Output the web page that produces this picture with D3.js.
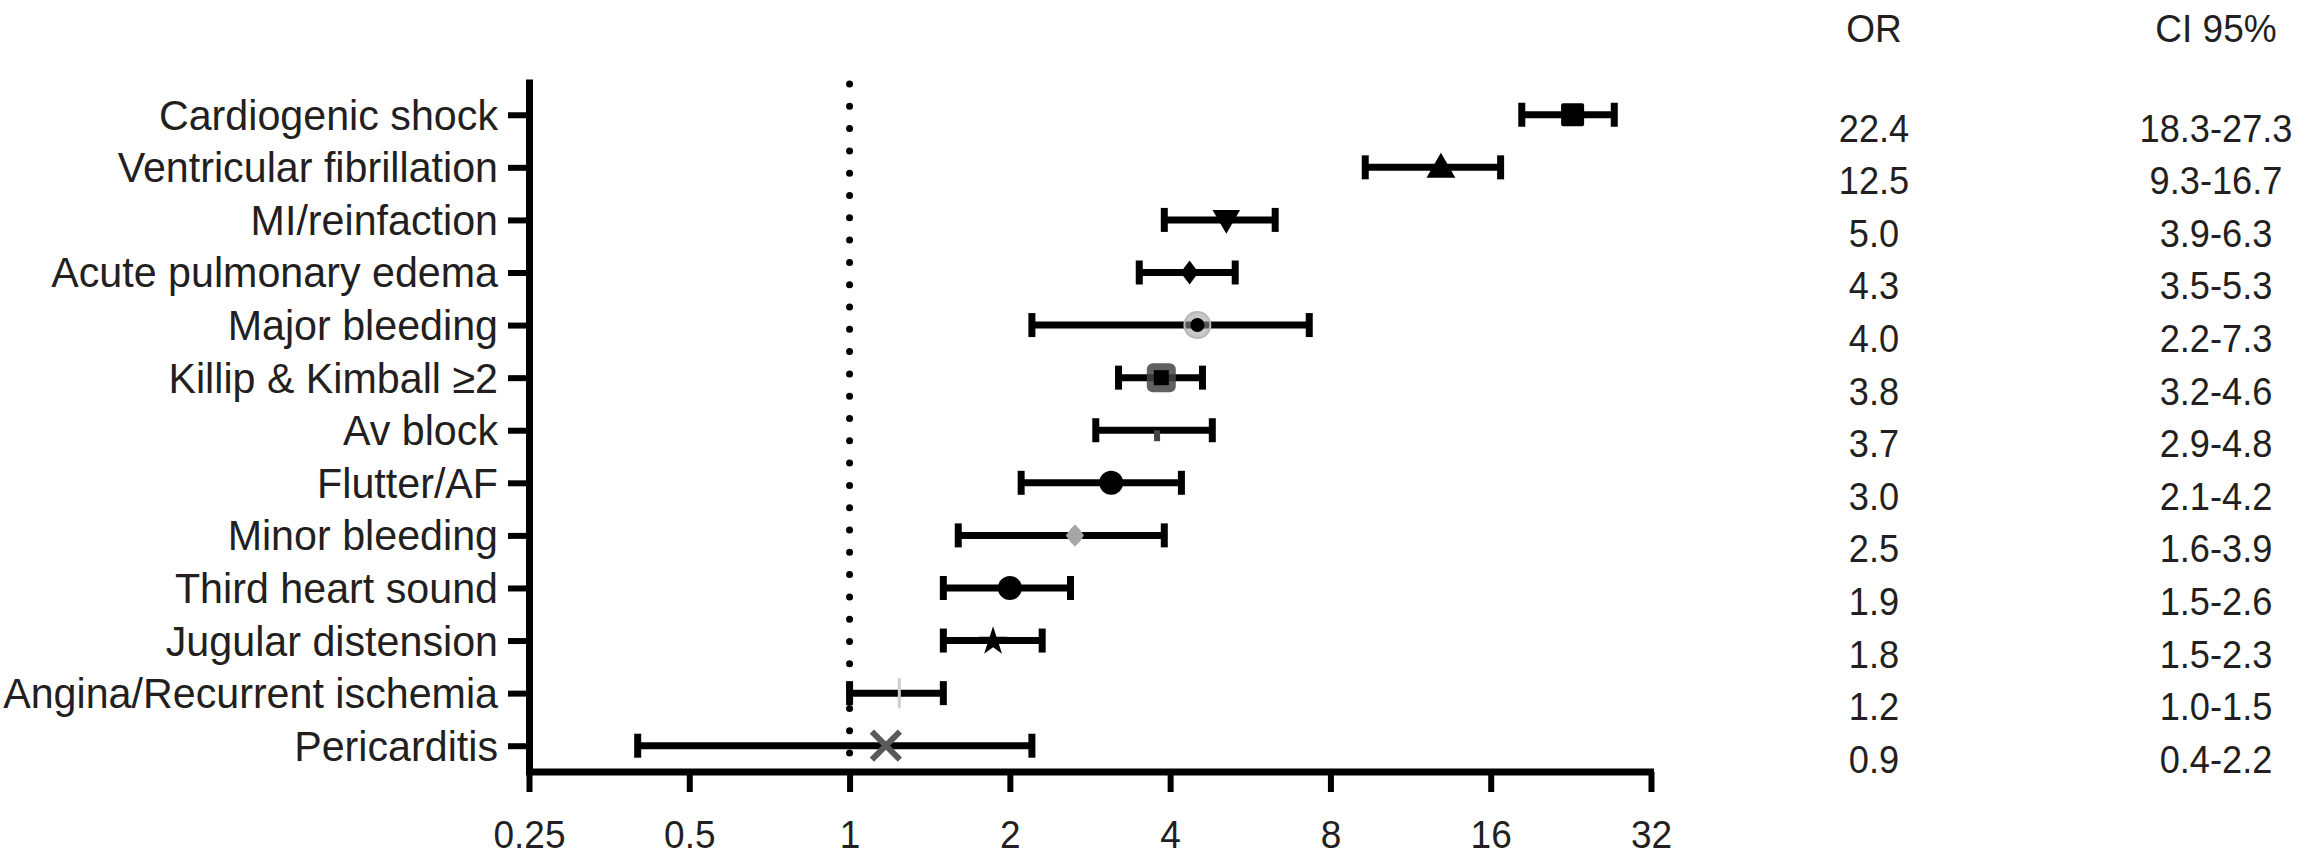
<!DOCTYPE html>
<html>
<head>
<meta charset="utf-8">
<script src="https://cdn.jsdelivr.net/npm/d3@7"></script>
<style>
  html, body { margin: 0; padding: 0; background: #fff; }
  svg { display: block; font-family: "Liberation Sans", Arial, Helvetica, sans-serif; }
</style>
</head>
<body>
<div id="chart"></div>
<script>
// rows, top to bottom
const categories = [
    "Cardiogenic shock", "Ventricular fibrillation", "MI/reinfaction", "Acute pulmonary edema",
    "Major bleeding", "Killip & Kimball \u22652", "Av block", "Flutter/AF", "Minor bleeding",
    "Third heart sound", "Jugular distension", "Angina/Recurrent ischemia", "Pericarditis"
];
const orValues = [22.4, 12.5, 5.0, 4.3, 4.0, 3.8, 3.7, 3.0, 2.5, 1.9, 1.8, 1.2, 0.9];
const ciLow = [18.3, 9.3, 3.9, 3.5, 2.2, 3.2, 2.9, 2.1, 1.6, 1.5, 1.5, 1.0, 0.4];
const ciHigh = [27.3, 16.7, 6.3, 5.3, 7.3, 4.6, 4.8, 4.2, 3.9, 2.6, 2.3, 1.5, 2.2];
// where the marker sits on the plot (read off the figure, not always equal to OR)
const markerAt = [22.8, 12.9, 5.1, 4.35, 4.5, 3.85, 3.78, 3.1, 2.65, 2.0, 1.86, 1.24, 1.17];
const xTicks = [0.25, 0.5, 1, 2, 4, 8, 16, 32];
const colHeaders = ["OR", "CI 95%"];

const width = 2316, height = 859;
const plot = { left: 529, right: 1651, top: 79, bottom: 772 };

const svg = d3.select("#chart").append("svg")
    .attr("width", width).attr("height", height);

const x = d3.scaleLog().base(2).domain([0.25, 32]).range([plot.left, plot.right]);
const y = d3.scaleLinear().domain([-0.68, 12.5]).range([plot.top, plot.bottom]);

const ink = "#000";
const textCol = "#231f20";
// the figure's type is a little narrower than Liberation Sans
const squeeze = (cx, k) => `translate(${cx},0) scale(${k},1) translate(${-cx},0)`;

// reference line at OR = 1
svg.append("line")
    .attr("x1", x(1)).attr("x2", x(1))
    .attr("y1", plot.top + 5).attr("y2", plot.bottom)
    .attr("stroke", ink)
    .attr("stroke-width", 7)
    .attr("stroke-linecap", "round")
    .attr("stroke-dasharray", "0 22.3");

// axes
const yAxis = d3.axisLeft(y)
    .tickValues(d3.range(categories.length))
    .tickFormat(i => categories[i])
    .tickSize(21).tickSizeOuter(0).tickPadding(10);

const gy = svg.append("g").attr("transform", `translate(${plot.left},0)`).call(yAxis);
gy.select(".domain").attr("stroke", ink).attr("stroke-width", 7);
gy.selectAll(".tick line").attr("stroke", ink).attr("stroke-width", 6);
gy.selectAll(".tick text")
    .attr("font-size", 42.5).attr("fill", textCol)
    .attr("font-family", "Liberation Sans, Arial, sans-serif")
    .attr("dy", "0.34em")
    .attr("transform", squeeze(-31, 0.97));

const xAxis = d3.axisBottom(x)
    .tickValues(xTicks)
    .tickFormat(d => d)
    .tickSize(20).tickSizeOuter(0).tickPadding(28);

const gx = svg.append("g").attr("transform", `translate(0,${plot.bottom})`).call(xAxis);
gx.select(".domain").attr("stroke", ink).attr("stroke-width", 7)
    .attr("d", `M${plot.left - 3},0H${plot.right + 3}`);
gx.selectAll(".tick line").attr("stroke", ink).attr("stroke-width", 6);
gx.selectAll(".tick text")
    .attr("font-size", 39).attr("fill", textCol)
    .attr("font-family", "Liberation Sans, Arial, sans-serif")
    .attr("transform", squeeze(0, 0.95));

// error bars
const rows = categories.map((c, i) => ({
    name: c, i, or: orValues[i], lo: ciLow[i], hi: ciHigh[i], at: markerAt[i]
}));

const bars = svg.append("g").attr("stroke", ink);
bars.selectAll("line.ci")
    .data(rows)
    .join("line")
    .attr("class", "ci")
    .attr("x1", d => x(d.lo)).attr("x2", d => x(d.hi))
    .attr("y1", d => y(d.i)).attr("y2", d => y(d.i))
    .attr("stroke-width", 7);
bars.selectAll("line.cap")
    .data(rows.flatMap(d => [{ v: d.lo, i: d.i }, { v: d.hi, i: d.i }]))
    .join("line")
    .attr("class", "cap")
    .attr("x1", d => x(d.v)).attr("x2", d => x(d.v))
    .attr("y1", d => y(d.i) - 12).attr("y2", d => y(d.i) + 12)
    .attr("stroke-width", 7);

// markers, one style per outcome as in the figure
const marks = svg.append("g");
const sym = (type, size) => d3.symbol().type(type).size(size)();

rows.forEach(d => {
    const g = marks.append("g").attr("transform", `translate(${x(d.at)},${y(d.i)})`);
    switch (d.i) {
        case 0:
            g.append("rect").attr("x", -11.5).attr("y", -11.5).attr("width", 23).attr("height", 23)
                .attr("rx", 2).attr("fill", ink);
            break;
        case 1:
            g.append("path").attr("d", sym(d3.symbolTriangle, 360)).attr("fill", ink)
                .attr("transform", "translate(0,2)");
            break;
        case 2:
            g.append("path").attr("d", sym(d3.symbolTriangle, 330)).attr("fill", ink)
                .attr("transform", "translate(0,-2) rotate(180)");
            break;
        case 3:
            g.append("path").attr("d", "M0,-12L9,0L0,12L-9,0Z").attr("fill", ink);
            break;
        case 4:
            g.append("circle").attr("r", 13).attr("fill", "#9a9a9a").attr("fill-opacity", 0.55)
                .attr("stroke", "#b8b8b8").attr("stroke-width", 2);
            g.append("circle").attr("r", 7).attr("fill", ink);
            break;
        case 5:
            g.append("rect").attr("x", -14.5).attr("y", -14.5).attr("width", 29).attr("height", 29)
                .attr("rx", 6).attr("fill", "#444").attr("fill-opacity", 0.85);
            g.append("rect").attr("x", -7.5).attr("y", -7.5).attr("width", 15).attr("height", 15)
                .attr("fill", ink);
            break;
        case 6:
            g.append("rect").attr("x", -3).attr("y", 0).attr("width", 6).attr("height", 11)
                .attr("fill", "#444");
            break;
        case 7:
        case 9:
            g.append("circle").attr("r", 12).attr("fill", ink);
            break;
        case 8:
            g.append("path").attr("d", "M0,-11Q5,-7 9,0Q5,7 0,11Q-5,7 -9,0Q-5,-7 0,-11Z")
                .attr("fill", "#a6a6a6");
            break;
        case 10:
            g.append("path").attr("d", sym(d3.symbolStar, 260)).attr("fill", ink)
                .attr("transform", "translate(0,1)");
            break;
        case 11:
            g.append("line").attr("y1", -15).attr("y2", 15)
                .attr("stroke", "#cfcfcf").attr("stroke-width", 3);
            break;
        case 12:
            g.append("path").attr("d", "M-14,-14L14,14M-14,14L14,-14")
                .attr("stroke", "#5a5a5a").attr("stroke-width", 6).attr("fill", "none");
            break;
    }
});

// right-hand table
const colX = [1874, 2216];
svg.append("g")
    .selectAll("text")
    .data(colHeaders)
    .join("text")
    .attr("x", (d, j) => colX[j])
    .attr("y", 42)
    .attr("text-anchor", "middle")
    .attr("font-size", 39)
    .attr("fill", textCol)
    .attr("transform", (d, j) => squeeze(colX[j], 0.95))
    .text(d => d);

const table = svg.append("g")
    .attr("font-size", 38.5)
    .attr("fill", textCol)
    .attr("text-anchor", "middle");

table.selectAll("text.or")
    .data(rows)
    .join("text")
    .attr("class", "or")
    .attr("x", colX[0])
    .attr("y", d => y(d.i) + 27)
    .attr("transform", squeeze(colX[0], 0.94))
    .text(d => d.or.toFixed(1));

table.selectAll("text.ci")
    .data(rows)
    .join("text")
    .attr("class", "ci")
    .attr("x", colX[1])
    .attr("y", d => y(d.i) + 27)
    .attr("transform", squeeze(colX[1], 0.94))
    .text(d => `${d.lo.toFixed(1)}-${d.hi.toFixed(1)}`);
</script>
</body>
</html>
